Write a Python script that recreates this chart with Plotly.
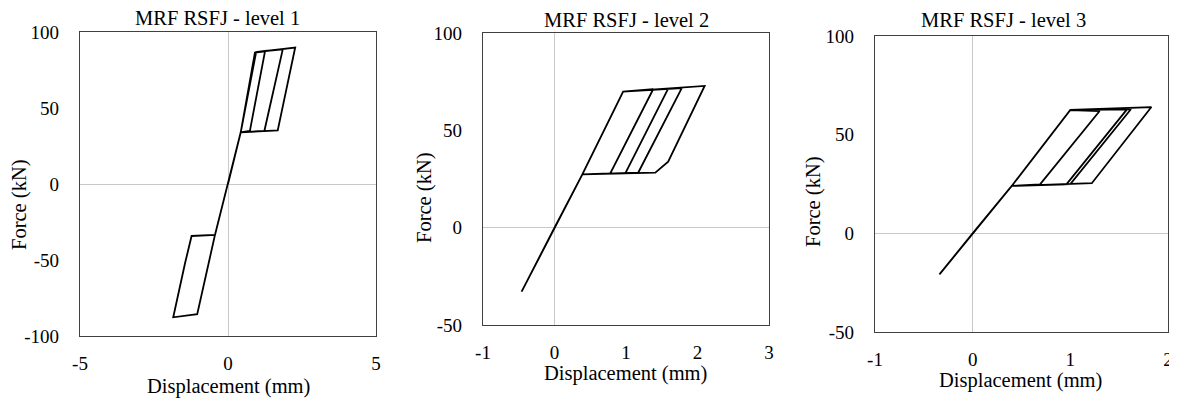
import plotly.graph_objects as go

# ---- data ----
disp1 = [0, 0.43, 0.91, 1.25, 0.74, 0.43, -0.44, -1.23, -1.45, -1.85, -1.04, -0.44,
         0.43, 0.95, 1.25, 1.85, 1.23, 0.43, 0.95, 1.85, 2.27, 1.68, 0.43, 0]
force1 = [0, 34.0, 86.4, 87.3, 35.0, 34.0, -33.5, -34.2, -52.0, -87.7, -85.7, -33.5,
          34.0, 86.8, 87.5, 88.6, 35.0, 34.0, 86.8, 88.6, 89.8, 35.3, 34.0, 0]

disp2 = [0, -0.46, 0, 0.39, 0.96, 1.38, 0.78, 0.39, 0.96, 1.59, 0.99, 0.39,
         0.96, 1.78, 1.17, 0.39, 0.96, 2.10, 1.59, 1.41, 0.39, 0]
force2 = [0, -32.9, 0, 27.4, 69.9, 71.1, 27.9, 27.4, 69.9, 71.4, 27.9, 27.4,
          69.9, 71.7, 28.2, 27.4, 69.9, 72.8, 33.9, 28.3, 27.4, 0]

disp3 = [0, -0.34, 0, 0.40, 1.00, 1.30, 0.69, 0.40, 1.00, 1.58, 0.96, 0.40,
         1.00, 1.62, 1.00, 0.40, 1.00, 1.83, 1.22, 0.40, 0]
force3 = [0, -20.8, 0, 24.0, 62.5, 62.0, 24.8, 24.0, 62.5, 62.8, 24.8, 24.0,
          62.5, 62.9, 25.0, 24.0, 62.5, 64.0, 25.4, 24.0, 0]

titles = ["MRF RSFJ - level 1", "MRF RSFJ - level 2", "MRF RSFJ - level 3"]
xticks = [[-5, 0, 5], [-1, 0, 1, 2, 3], [-1, 0, 1, 2]]
yticks = [[-100, -50, 0, 50, 100], [-50, 0, 50, 100], [-50, 0, 50, 100]]
xranges = [[-5, 5], [-1, 3], [-1, 2]]
yranges = [[-100, 100], [-50, 100], [-50, 100]]

OFF = 8  # page body margin in the browser
W, H = 1177 - OFF, 399 - OFF
# plot boxes in window pixels (left, right, top, bottom)
boxes = [(80, 376, 32, 336), (483, 769, 33, 325), (875, 1168, 36, 332)]
title_pos = [(217, 18), (626, 20), (1003, 20)]
xtitle_pos = [(228, 386), (625, 373), (1020, 380)]
ytitle_pos = [(19, 205), (425, 198), (813, 202)]


def px(x):
    return (x - OFF) / W


def py(y):
    return 1 - (y - OFF) / H


FONT = "Liberation Serif"
fig = go.Figure()
series = [(disp1, force1), (disp2, force2), (disp3, force3)]
annotations = []
for i, (dx, fy) in enumerate(series):
    sfx = "" if i == 0 else str(i + 1)
    fig.add_trace(go.Scatter(x=dx, y=fy, mode="lines",
                             line=dict(color="black", width=1.8),
                             xaxis="x" + sfx, yaxis="y" + sfx, showlegend=False))
    l, r, t, b = boxes[i]
    axcommon = dict(showline=True, mirror=True, linecolor="#404040", linewidth=1.3,
                    showgrid=False, zeroline=True, zerolinecolor="#c8c8c8",
                    zerolinewidth=1, ticks="outside", tickcolor="rgba(0,0,0,0)",
                    automargin=False, ticklabeloverflow="allow",
                    tickfont=dict(family=FONT, size=19, color="black"))
    fig.layout["xaxis" + sfx] = dict(domain=[px(l), px(r)], range=xranges[i],
                                     tickmode="array", tickvals=xticks[i],
                                     ticktext=[str(v) for v in xticks[i]],
                                     ticklen=10, anchor="y" + sfx, **axcommon)
    fig.layout["yaxis" + sfx] = dict(domain=[py(b), py(t)], range=yranges[i],
                                     tickmode="array", tickvals=yticks[i],
                                     ticktext=[str(v) for v in yticks[i]],
                                     ticklen=16, anchor="x" + sfx, **axcommon)
    tx, ty = title_pos[i]
    annotations.append(dict(text=titles[i], x=px(tx), y=py(ty), xref="paper",
                            yref="paper", showarrow=False, xanchor="center",
                            yanchor="middle", font=dict(family=FONT, size=20.5, color="black")))
    ax_, ay_ = xtitle_pos[i]
    annotations.append(dict(text="Displacement (mm)", x=px(ax_), y=py(ay_),
                            xref="paper", yref="paper", showarrow=False,
                            xanchor="center", yanchor="middle",
                            font=dict(family=FONT, size=20.5, color="black")))
    bx, by = ytitle_pos[i]
    annotations.append(dict(text="Force (kN)", x=px(bx), y=py(by),
                            xref="paper", yref="paper", showarrow=False,
                            xanchor="center", yanchor="middle", textangle=-90,
                            font=dict(family=FONT, size=20.5, color="black")))

fig.update_layout(template="none", width=W, height=H,
                  margin=dict(l=0, r=0, t=0, b=0, pad=0),
                  font=dict(family=FONT, color="black"),
                  paper_bgcolor="white", plot_bgcolor="white",
                  annotations=annotations)
fig.write_html("out.html")
